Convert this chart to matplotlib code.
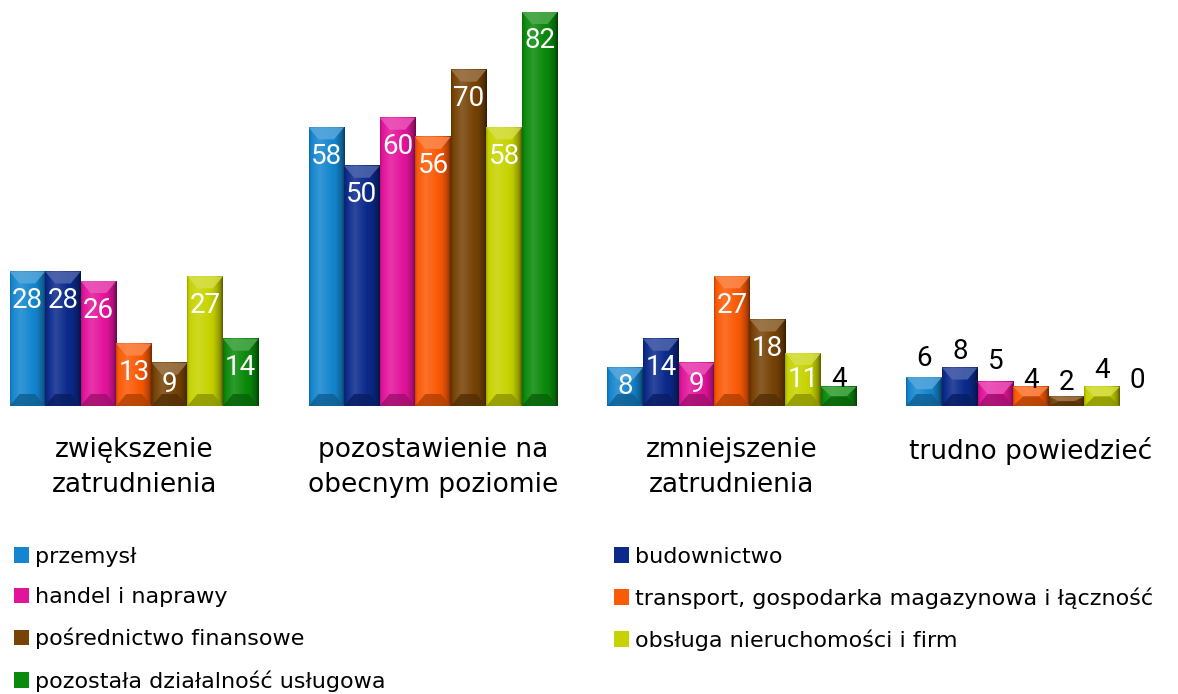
import numpy as np
import matplotlib.pyplot as plt
from matplotlib.patches import Polygon, Patch
from matplotlib.colors import to_rgb

plt.rcParams['font.family'] = 'DejaVu Sans'

categories = ['zwiększenie\nzatrudnienia', 'pozostawienie na\nobecnym poziomie',
              'zmniejszenie\nzatrudnienia', 'trudno powiedzieć']
series = ['przemysł', 'budownictwo', 'handel i naprawy',
          'transport, gospodarka magazynowa i łączność',
          'pośrednictwo finansowe', 'obsługa nieruchomości i firm',
          'pozostała działalność usługowa']
przemysl = [28, 58, 8, 6]
budownictwo = [28, 50, 14, 8]
handel = [26, 60, 9, 5]
transport = [13, 56, 27, 4]
posrednictwo = [9, 70, 18, 2]
obsluga = [27, 58, 11, 4]
pozostala = [14, 82, 4, 0]
values = [przemysl, budownictwo, handel, transport, posrednictwo, obsluga, pozostala]

colors = ['#1486cf', '#0b2a8c', '#e3149c', '#fb5a06', '#774306', '#c7d300', '#0b8a0b']

# pixel nudges for labels drawn above short bars (Excel moved some of them)
above_px = {(3, 0): 19, (3, 1): 16, (3, 2): 20, (3, 3): 6, (3, 4): 14,
            (3, 5): 16, (3, 6): 26, (2, 6): 7}


def shade(rgb, f):
    rgb = np.array(rgb)
    if f >= 1:
        return tuple(rgb + (1 - rgb) * (f - 1))
    return tuple(rgb * f)


fig = plt.figure(figsize=(11.78, 6.94), dpi=100)
ax = fig.add_axes([10 / 1178, 288 / 694, 1145 / 1178, 394 / 694])

x = np.arange(len(categories))
w = 0.119
ax.set_xlim(-0.415, 3.415)
ax.set_ylim(0, 82)

px_x = 299.0          # pixels per x unit
px_y = 394 / 82.0     # pixels per y unit

t_prof = np.linspace(0, 1, 60)
f_prof = np.interp(t_prof, [0, 0.06, 0.3, 0.75, 0.92, 1], [0.8, 1.0, 1.14, 0.95, 0.72, 0.45])

for i, vals in enumerate(values):
    pos = x + (i - 3) * w
    bars = ax.bar(pos, vals, w, color=colors[i], edgecolor='none', zorder=2)
    base = to_rgb(colors[i])
    for g, b in enumerate(bars):
        x0, bw, h = b.get_x(), b.get_width(), b.get_height()
        x1 = x0 + bw
        if h > 0:
            img = np.array([[shade(base, f) for f in f_prof]])
            ax.imshow(img, extent=[x0, x1, 0, h], aspect='auto', zorder=3,
                      interpolation='bilinear')
            dx = 10 / px_x
            dy = min(12 / px_y, h / 2)
            top = Polygon([(x0, h), (x1, h), (x1 - dx, h - dy), (x0 + dx, h - dy)],
                          closed=True, facecolor=shade(base, 1.3), edgecolor='none',
                          alpha=0.8, zorder=4)
            ax.add_patch(top)
            bot = Polygon([(x0, 0), (x1, 0), (x1 - dx, dy), (x0 + dx, dy)],
                          closed=True, facecolor=shade(base, 0.7), edgecolor='none',
                          alpha=0.8, zorder=4)
            ax.add_patch(bot)
        v = vals[g]
        xc = x0 + bw / 2
        if (g, i) in above_px:
            ax.annotate(str(v), (xc, h), xytext=(0, above_px[(g, i)] * 0.72),
                        textcoords='offset points', ha='center', va='center',
                        fontsize=20, family='Roboto', color='black', zorder=6)
        else:
            off = min(29, h * px_y / 2)
            ax.annotate(str(v), (xc, h), xytext=(0, -off * 0.72),
                        textcoords='offset points', ha='center', va='center',
                        fontsize=20, family='Roboto', color='white', zorder=6)

ax.set_xticks(x)
ax.set_xticklabels(categories, fontsize=19, linespacing=1.45)
ax.tick_params(axis='x', length=0, pad=22)
ax.set_yticks([])
for s in ax.spines.values():
    s.set_visible(False)

handles = [Patch(facecolor=c, edgecolor='none') for c in colors]
leg_kw = dict(loc='upper left', frameon=False, fontsize=16, handlelength=0.7,
              handleheight=0.7, handletextpad=0.25, labelspacing=0.93, borderpad=0.2)
leg1 = fig.legend([handles[k] for k in (0, 2, 4, 6)], [series[k] for k in (0, 2, 4, 6)],
                  bbox_to_anchor=(-2 / 1178, 1 - 531 / 694), **leg_kw)
leg2 = fig.legend([handles[k] for k in (1, 3, 5)], [series[k] for k in (1, 3, 5)],
                  bbox_to_anchor=(598 / 1178, 1 - 531 / 694), **leg_kw)

fig.savefig('out.png', dpi=100)
